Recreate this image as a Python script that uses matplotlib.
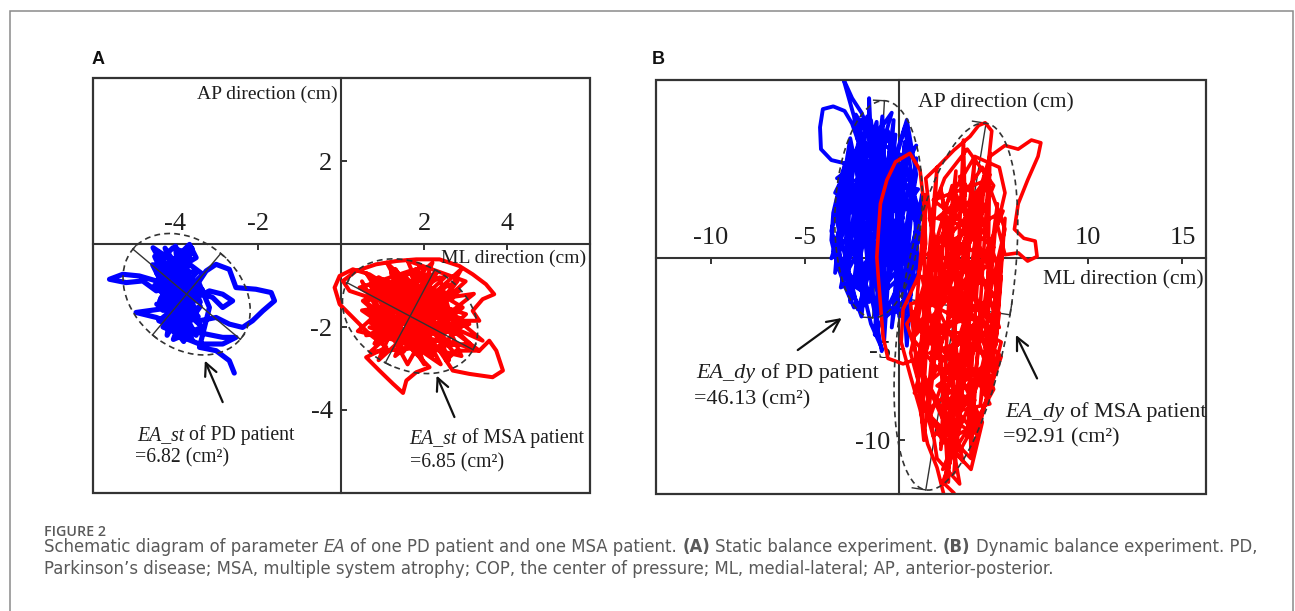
import matplotlib
matplotlib.use("Agg")
import matplotlib.pyplot as plt
import numpy as np
from matplotlib.patches import Ellipse, Rectangle
from matplotlib.offsetbox import TextArea, HPacker, AnnotationBbox

plt.rcParams['font.family'] = ['Liberation Serif', 'DejaVu Serif']
plt.rcParams['axes.unicode_minus'] = False

# ---------------- data (cm) ----------------
# COP trajectory, PD patient, static balance (ML, AP)
pd_static = [(-4.40,-0.20),(-3.70,-1.60),(-4.20,-1.90),(-3.60,-0.10),(-4.50,-1.00),(-3.40,-1.40),(-4.00,-0.05),(-3.80,-2.00),
             (-4.55,-0.50),(-3.50,-0.70),(-4.30,-1.60),(-3.90,-0.30),(-3.45,-1.90),(-4.10,-1.20),(-4.45,-0.70),(-3.55,-1.20),
             (-4.25,-0.10),(-3.75,-1.35),(-4.35,-1.30),(-3.85,-0.60),(-4.05,-1.75),(-3.60,-0.85),(-4.50,-0.30),(-3.95,-1.50),
             (-3.35,-1.10),(-4.15,-0.60),(-3.65,-1.80),(-4.40,-1.10),(-3.80,-0.20),(-4.20,-1.40),(-3.70,-0.50),(-4.00,-2.10),
             (-3.50,-1.60),(-4.30,-0.80),(-3.90,-1.00),(-4.10,-0.35),(-3.60,-1.45),(-4.45,-1.45),(-3.85,-1.85),(-3.75,-0.75),
             (-4.20,-1.20),(-3.50,-2.20),(-4.00,-1.30),(-3.60,-2.30),(-4.30,-2.00),(-3.40,-1.50),(-3.90,-2.25),(-4.15,-1.60),
             (-3.55,-1.00),(-3.80,-2.35),(-4.25,-1.75),(-3.45,-1.75),(-3.95,-1.10),(-3.70,-2.15),(-4.40,-1.85),(-3.65,-1.25),
             (-4.05,-2.30),(-3.35,-2.00),(-3.85,-1.55),(-4.20,-2.20),
             (-3.98,-0.89),(-4.14,-0.49),(-3.82,-0.17),(-3.66,-0.01),(-3.50,-0.33),(-3.90,-0.57),(-4.30,-0.25),(-4.54,-0.09),
             (-4.22,-0.65),(-4.46,-0.89),(-4.87,-0.77),(-5.27,-0.73),(-5.59,-0.85),(-5.19,-0.93),(-4.79,-0.89),(-4.46,-1.13),
             (-4.06,-0.97),(-3.74,-1.29),(-3.42,-0.89),(-3.26,-0.65),(-3.02,-0.49),(-2.70,-0.61),(-2.54,-1.05),(-2.06,-1.09),
             (-1.69,-1.17),(-1.61,-1.37),(-1.89,-1.61),(-2.14,-1.85),(-2.38,-2.01),(-2.70,-1.93),(-3.02,-1.77),(-3.42,-1.85),
             (-3.66,-1.61),(-3.98,-1.45),(-4.38,-1.57),(-4.95,-1.65),(-4.46,-1.77),(-4.06,-1.93),(-3.66,-2.09),(-3.26,-2.17),
             (-2.86,-2.25),(-2.54,-2.25),(-2.86,-2.41),(-3.42,-2.41),(-3.82,-2.25),(-4.06,-2.01),(-3.90,-1.69),(-3.66,-1.37),
             (-3.18,-1.13),(-2.86,-1.21),(-2.62,-1.37),(-2.86,-1.53),(-3.10,-1.29),(-3.50,-1.13),(-3.82,-0.89),(-4.22,-1.13),
             (-4.38,-1.37),(-4.06,-1.53),(-3.82,-1.21),(-3.98,-0.73),(-4.14,-0.33),(-3.66,-0.49),(-3.34,-0.73),(-3.66,-1.05),
             (-3.98,-1.21),(-4.22,-0.89),(-3.90,-0.49),(-3.66,-0.25),(-4.06,-0.09),(-4.38,-0.41),(-4.14,-0.81),(-3.74,-0.89),
             (-3.42,-0.97),(-3.18,-1.53),(-3.42,-2.49),(-3.02,-2.57),(-2.70,-2.81),(-2.58,-3.11)]

# COP trajectory, MSA patient, static balance
msa_static = [(0.50,-0.90),(1.60,-2.90),(2.90,-0.60),(0.70,-2.60),(3.10,-2.40),(1.10,-0.45),(2.40,-2.90),(0.50,-1.60),
              (3.20,-1.20),(1.30,-2.70),(2.20,-0.45),(0.40,-2.10),(2.90,-2.70),(1.90,-0.50),(0.90,-2.80),(3.00,-0.90),
              (1.60,-0.40),(2.60,-2.80),(0.60,-0.70),(2.00,-2.90),
              (1.20,-0.70),(2.60,-2.40),(0.70,-1.90),(2.80,-0.90),(1.50,-2.60),(0.90,-0.80),(2.40,-1.60),(1.10,-2.30),
              (2.90,-2.00),(1.80,-0.60),(0.60,-1.40),(2.20,-2.70),(1.40,-1.00),(2.70,-1.30),(1.00,-1.60),(2.00,-2.20),
              (1.60,-0.90),(2.50,-0.80),(0.80,-2.40),(2.10,-1.10),(1.30,-1.90),(2.60,-2.00),(1.90,-1.40),(0.90,-1.20),
              (2.30,-2.50),(1.70,-2.00),(2.80,-1.60),(1.20,-1.40),(2.00,-0.80),(1.50,-2.30),(0.70,-1.00),(2.40,-1.20),
              (1.80,-2.60),(1.00,-2.00),(2.20,-1.80),(1.60,-1.20),(2.70,-2.60),(1.30,-0.60),(2.00,-1.60),(0.80,-1.70),
              (1.90,-2.40),(2.50,-1.00),(1.40,-1.70),(2.90,-1.80),(1.10,-1.10),(2.30,-0.70),(1.70,-1.80),(0.60,-2.20),
              (2.10,-2.00),(1.50,-1.50),
              (1.33,-1.13),(0.68,-0.73),(0.28,-0.61),(-0.04,-0.77),(-0.16,-1.05),(-0.04,-1.45),(0.28,-1.77),(0.68,-2.17),
              (1.09,-2.49),(0.60,-2.73),(0.92,-3.05),(1.25,-3.37),(1.49,-3.59),(1.57,-3.29),(1.81,-3.09),(2.13,-2.97),
              (1.73,-2.57),(2.13,-0.73),(1.73,-1.53),(0.68,-1.13),(1.17,-2.01),(2.37,-1.21),(1.97,-2.17),(0.92,-1.53),
              (2.53,-1.77),(1.57,-0.81),(0.52,-1.37),(1.81,-2.49),(2.93,-1.53),(2.13,-1.05),(1.00,-0.89),(1.49,-1.85),
              (2.77,-2.17),(2.37,-0.81),(0.76,-1.77),(1.89,-1.37),(3.09,-1.93),(1.33,-2.33),(0.84,-0.89),(2.21,-1.93),
              (1.65,-0.65),(0.44,-1.05),(2.53,-2.33),(3.33,-2.57),(2.69,-2.09),(1.17,-1.37),(2.85,-1.13),(1.81,-1.85),
              (0.68,-2.01),(2.13,-2.49),(3.01,-1.69),(1.49,-1.21),(0.92,-2.17),(2.45,-1.53),(1.97,-0.97),(1.09,-1.77),
              (2.69,-2.01),(3.41,-2.33),(2.93,-1.93),(1.73,-2.17),(0.60,-1.61),(2.29,-1.37),(1.33,-0.81),(2.37,-2.33),
              (2.53,-2.81),(2.77,-2.57),(3.33,-2.57),(3.57,-2.33),(3.74,-2.57),(3.90,-3.05),(3.65,-3.21),(3.09,-3.13),
              (2.69,-3.05),(2.37,-2.57),(2.93,-1.85),(3.33,-1.85),(3.17,-1.61),(3.41,-1.33),(3.69,-1.21),(3.49,-0.97),
              (3.17,-0.73),(2.85,-0.53),(2.37,-0.37),(1.81,-0.37),(1.33,-0.41),(0.84,-0.49),(0.36,-0.65),(0.04,-0.89),
              (0.20,-1.13),(0.68,-1.29),(1.65,-1.53)]

# COP trajectory, PD patient, dynamic balance
pd_dynamic = [(-0.93,-5.10),(-1.20,-3.50),(-1.50,-2.00),(-2.40,-2.70),(-2.90,-1.50),(-3.30,-0.30),(-3.60,1.00),(-3.50,2.50),
              (-3.20,3.80),(-3.00,4.80),(-2.80,5.20),(-3.60,5.40),(-4.15,6.00),(-4.20,7.20),(-4.05,8.20),(-3.50,8.35),
              (-2.90,8.10),(-2.50,7.40),(-2.20,6.50),(-2.40,7.80),(-2.96,9.85),(-2.50,8.80),(-2.00,8.00),(-1.60,7.00),
              (-1.60,8.80),(-1.50,6.50),
              (-2.30,7.90),(-0.80,1.20),(-1.50,7.60),(-3.40,3.60),(-0.40,8.00),(-2.90,-1.00),(0.90,6.20),(-3.60,0.00),
              (-1.90,5.20),(0.60,-3.40),(-2.60,-1.40),(1.00,3.80),(-3.30,4.40),(-0.20,6.80),(-1.20,-3.60),(-2.20,4.60),
              (0.20,2.20),
              (-2.00,7.60),(-2.40,2.00),(-1.90,-2.60),(-1.40,3.50),(-1.70,7.80),(-0.60,3.00),(-0.90,-3.40),(-0.20,1.50),
              (0.30,6.40),(-0.40,-0.50),(-2.70,4.60),(-3.20,0.00),(-2.50,-2.00),(-2.00,1.80),(-1.00,7.20),(-1.80,2.50),
              (-2.60,6.60),(-3.30,2.00),(-2.20,-2.80),(-1.20,0.50),(-0.50,6.00),(0.80,3.00),(1.00,-0.80),(0.00,-3.20),
              (-0.40,2.20),(-1.50,5.40),(-2.80,3.00),(-3.50,0.40),(-2.00,-1.80),(-0.80,3.60),(0.40,7.60),(0.90,4.60),
              (-0.10,-1.60),(-1.30,-4.20),(-1.00,1.00),(-2.30,5.80),(-1.60,-1.00),(-0.30,4.20),(0.60,-2.00),(-0.70,-3.20),
              (-1.90,3.40),(-3.00,-0.40),(-2.60,1.00),(-1.10,6.40),(0.20,5.60),(1.10,2.40),(0.30,-0.80),(-1.40,-2.40),
              (-2.40,0.20),(-1.60,2.00),(-0.40,0.40),(-1.20,4.80),(-2.10,4.00),(-0.90,-1.40),(0.50,1.20),
              (-2.20,-1.50),(-1.80,7.20),(-2.80,-0.50),(-2.50,6.00),(-3.30,0.50),(-1.20,7.50),
              (-1.00,-3.00),(-0.30,7.60),(-1.60,-2.40),(0.50,6.80),(-0.40,-3.80),(0.90,5.50),(0.20,-2.60),(1.20,3.50),
              (0.70,-1.40),(-0.60,7.00),(-2.60,-2.40),(-3.00,4.20),(-3.60,1.50),(-2.00,-3.20),(-1.30,4.00),(-0.80,-4.50),
              (-0.20,5.00),(0.40,-4.80),(0.90,2.00),(-2.10,6.80),(-3.40,-0.80),(-2.90,5.20),(-1.60,0.80),(-0.90,7.80),
              (-0.50,-1.00),(0.60,4.40),(-2.30,3.00),(-1.10,-2.00),(1.10,1.00),(0.30,7.20),(-1.90,-0.80),(-2.60,3.60),
              (-0.70,2.00),(-1.40,6.00),(0.00,0.00),(-3.10,-1.60),(-1.80,4.80),(0.80,-0.50),(-0.20,3.00),(-2.40,1.50),
              (-1.00,5.50),(0.50,2.80),(-2.90,2.50),(-1.50,-3.60),(-0.90,-5.00)]

# COP trajectory, MSA patient, dynamic balance
msa_dynamic = [(2.34,-12.90),(2.00,-11.50),(1.50,-10.20),(1.10,-8.30),(0.60,-6.50),(0.10,-4.60),(0.20,-2.80),(1.00,-1.00),
               (1.40,0.80),(1.30,3.00),(1.10,4.85),(0.56,5.77),(-0.20,5.30),(-0.66,4.30),(-1.00,3.00),(-1.10,1.55),
               (-1.19,0.07),(-1.10,-1.20),(-1.00,-2.47),(-0.86,-4.30),(-0.60,-5.50),(0.20,-5.80),(1.00,-5.50),(1.60,-2.50),
               (1.80,0.80),(1.40,4.40),(2.10,5.10),(2.90,5.95),(3.75,6.70),(4.20,7.30),(4.55,7.45),(4.90,7.00),
               (4.60,4.00),(3.40,0.80),(4.80,5.60),(5.60,6.20),(6.30,6.00),(7.00,6.50),(7.50,6.35),(7.35,5.60),
               (6.80,4.30),(6.30,3.00),(6.10,1.60),(6.60,1.10),(7.20,0.95),(7.30,0.10),(6.80,-0.15),(6.30,0.30),
               (5.60,0.20),(5.20,1.80),(5.60,3.60),(5.30,5.00),(4.00,5.60),(2.50,3.00),(1.60,-8.00),(3.00,4.80),
               (2.20,-10.50),(4.00,5.50),(2.90,-11.80),(4.50,4.50),(3.60,-9.80),(5.20,3.00),(4.30,-8.00),(5.50,1.00),
               (4.90,-6.20),(5.30,-3.00),(0.80,-4.00),(1.40,3.50),(1.20,-9.00),(2.00,5.00),(1.00,-6.50),(1.80,1.00),
               (2.60,-12.30),(3.40,6.50),(3.80,-10.80),(4.80,5.80),(4.60,-7.50),(5.60,2.20),(5.10,-4.80),(5.40,-1.00),
               (0.60,-2.50),(1.30,-10.00),(2.40,2.00),(3.20,-7.00),(4.20,2.60),(2.00,-5.50),(3.60,0.00),(1.50,-1.50),
               (4.40,-3.50),(2.80,-9.00),(3.00,-1.00),(4.80,-5.50),(1.80,-3.50),(3.80,-5.00),(2.20,3.80),(3.30,-3.00),
               (5.50,2.60),(1.50,0.20),(4.80,4.60),(1.30,-4.80),(5.30,-1.80),(2.80,4.00),(1.10,-2.20),(5.40,-4.60),
               (3.80,-11.00),(1.40,-8.40),(4.60,-5.80),(2.30,-11.60),(4.10,-8.60),(0.70,-4.40),(5.00,0.60),(1.80,3.20),
               (4.40,4.20),(2.40,-12.40),(3.00,-9.80),
               (1.20,-1.00),(3.00,-4.80),(1.60,-8.80),(3.40,-11.20),(2.40,-7.40),(4.60,-4.00),(3.60,-0.40),(5.20,-2.20),
               (4.20,-6.80),(2.00,-9.60),(3.80,-11.60),(4.40,-9.00),(3.00,-6.00),(0.80,-3.00),(2.20,0.60),(1.00,-5.80),
               (2.80,-10.00),(3.20,-12.40),(2.00,-11.00),(1.40,-7.00),(3.60,-3.60),(5.40,-5.40),(4.00,-9.60),(2.60,-7.80),
               (4.80,-6.00),(5.20,-0.40),(4.00,3.40),(2.60,-0.80),(1.00,-3.80),(2.40,-5.60),(4.60,-2.80),(5.60,1.60),
               (4.40,5.00),(2.80,2.60),(1.60,-0.40),(0.60,-5.20),(1.80,-9.80),(3.00,-8.40),(4.80,-8.00),(3.40,-5.20),
               (1.80,-6.60),(0.80,-7.40),(2.00,-3.00),(3.80,1.00),(5.00,4.00),(3.60,6.00),(2.40,4.40),(1.60,2.20),
               (2.80,-2.40),(4.20,-4.60),(5.00,-7.20),(3.20,-10.60),(2.20,-8.20),(1.20,-6.20),(0.40,-3.60),(1.40,-2.00),
               (3.40,-1.60),(5.30,-3.80),(4.40,-1.00),(2.40,1.40),
               (3.50,3.50),(2.00,2.20),(4.50,1.50),(2.40,0.00),(4.20,-1.20),(1.80,-2.00),(3.80,-2.80),(2.00,-4.00),
               (4.40,-4.20),(1.60,-5.20),(3.60,-5.80),(2.00,-7.00),(4.00,-7.80),(2.40,-8.60),(3.60,-9.40),(2.20,-10.20),
               (3.00,-9.00),(4.20,-6.40),(2.80,-5.00),(4.80,-3.40),(3.00,-1.80),(4.90,-0.20),(2.60,1.20),(4.20,3.00),
               (3.20,4.50),(3.60,2.00),(2.20,-1.00),(3.40,-3.60),(2.60,-6.20),(3.20,-8.00),(2.70,-11.20),(2.30,-12.30),
               (2.90,-12.90)]

# 95% confidence ellipses: centre x, centre y, semi-major, semi-minor, angle (deg)
ell_pd_static = (-3.73, -1.21, 1.69, 1.28, -40)
ell_msa_static = (1.66, -1.74, 1.72, 1.27, -28)
ell_pd_dynamic = (-1.10, 2.70, 5.97, 2.30, 87)
ell_msa_dynamic = (3.00, -2.65, 10.20, 2.90, 81)

ea_values = {'pd_st': '6.82', 'msa_st': '6.85', 'pd_dy': '46.13', 'msa_dy': '92.91'}

xticks_a = [-4, -2, 2, 4]
yticks_a = [2, -2, -4]
xticks_b = [-10, -5, 10, 15]
yticks_b = [-5, -10]

# ---------------- styling ----------------
DARK = '#333333'
TXT = '#1e1e1e'
BLUE = '#0000ff'
RED = '#ff0000'
SERIF = ['Liberation Serif', 'DejaVu Serif']

fig = plt.figure(figsize=(12.95, 6.11), dpi=100)
fig.patch.set_facecolor('white')

# outer page border
fig.patches.append(Rectangle((9.5/1295, -0.1), (1292.5-9.5)/1295, 0.1 + (611-10.5)/611,
                             transform=fig.transFigure, fill=False, ec='#8a8a8a', lw=1.1))

axA = fig.add_axes([92.5/1295, (611-493)/611, 497.5/1295, 415/611])
axB = fig.add_axes([656/1295, (611-494)/611, 550/1295, 414/611])


def setup(ax, xlim, ylim, xt, yt):
    ax.set_xlim(*xlim)
    ax.set_ylim(*ylim)
    ax.set_facecolor('none')
    for s in ['right', 'bottom']:
        ax.spines[s].set_visible(False)
    ax.spines['top'].set_position(('data', 0))
    ax.spines['left'].set_position(('data', 0))
    for s in ['top', 'left']:
        ax.spines[s].set_color(DARK)
        ax.spines[s].set_linewidth(1.5)
    ax.xaxis.set_ticks_position('top')
    ax.yaxis.set_ticks_position('left')
    ax.set_xticks(xt)
    ax.set_yticks(yt)
    ax.set_xticklabels([str(v) for v in xt])
    ax.set_yticklabels([str(v) for v in yt])
    ax.tick_params(direction='in', length=4, width=1.4, color=DARK,
                   labelsize=19, labelcolor=TXT)
    ax.tick_params(axis='x', pad=6.5)
    ax.tick_params(axis='y', pad=6.3)
    ax.add_patch(Rectangle((0, 0), 1, 1, transform=ax.transAxes, fill=False,
                           ec=DARK, lw=1.6, clip_on=False, zorder=6))


setup(axA, (-6, 6), (-6, 4), xticks_a, yticks_a)
setup(axB, (-12.89, 16.25), (-12.95, 9.8), xticks_b, yticks_b)


def draw_path(ax, pts, color, lw):
    xs = [p[0] for p in pts]
    ys = [p[1] for p in pts]
    ax.plot(xs, ys, color=color, lw=lw, solid_joinstyle='round', solid_capstyle='round', zorder=3)


def draw_ellipse(ax, e, zaxes, cap_frac=0.12):
    cx, cy, a, b, ang = e
    ax.add_patch(Ellipse((cx, cy), 2*a, 2*b, angle=ang, fill=False, ec=DARK,
                         lw=1.2, ls=(0, (3.5, 2.5)), zorder=4))
    t = np.deg2rad(ang)
    u = np.array([np.cos(t), np.sin(t)])
    v = np.array([-np.sin(t), np.cos(t)])
    c = np.array([cx, cy])
    for vec, L, perp in [(u, a, v), (v, b, u)]:
        p1, p2 = c - L*vec, c + L*vec
        ax.plot([p1[0], p2[0]], [p1[1], p2[1]], color=DARK, lw=1.0, zorder=zaxes)
        cl = cap_frac * b
        for p in (p1, p2):
            q = p + cl*perp
            ax.plot([p[0], q[0]], [p[1], q[1]], color=DARK, lw=1.0, zorder=zaxes)


def mixed_label(ax, parts, xy, size):
    sp = 0.25 * size
    kids = [TextArea(s, textprops=dict(fontsize=size, family=SERIF, color=TXT, style=st))
            for s, st in parts]
    box = HPacker(children=kids, align='baseline', pad=0, sep=sp)
    ab = AnnotationBbox(box, xy, xycoords='data', box_alignment=(0, 0.5), frameon=False,
                        pad=0, annotation_clip=False, zorder=7)
    ax.add_artist(ab)


def arrow(ax, tail, head):
    ax.annotate('', xy=head, xytext=tail, xycoords='data',
                arrowprops=dict(arrowstyle='->,head_length=0.45,head_width=0.22',
                                color='#111111', lw=1.6, mutation_scale=20, shrinkA=0, shrinkB=0),
                zorder=7)

# ---------------- panel A ----------------
draw_path(axA, pd_static, BLUE, 3.7)
draw_path(axA, msa_static, RED, 2.9)
draw_ellipse(axA, ell_pd_static, 4)
draw_ellipse(axA, ell_msa_static, 4)
axA.text(-0.09, 3.6, 'AP direction (cm)', ha='right', va='center', fontsize=14, color=TXT, zorder=7)
axA.text(5.91, -0.34, 'ML direction (cm)', ha='right', va='center', fontsize=14, color=TXT, zorder=7)
mixed_label(axA, [('EA_st', 'italic'), ('of PD patient', 'normal')], (-4.93, -4.6), 14.2)
axA.text(-4.98, -5.16, '=' + ea_values['pd_st'] + ' (cm²)', ha='left', va='center', fontsize=14.2, color=TXT, zorder=7)
mixed_label(axA, [('EA_st', 'italic'), ('of MSA patient', 'normal')], (1.65, -4.68), 14.2)
axA.text(1.65, -5.28, '=' + ea_values['msa_st'] + ' (cm²)', ha='left', va='center', fontsize=14.2, color=TXT, zorder=7)
arrow(axA, (-2.86, -3.81), (-3.29, -2.81))
arrow(axA, (2.73, -4.17), (2.30, -3.17))

# ---------------- panel B ----------------
draw_path(axB, pd_dynamic, BLUE, 2.8)
draw_path(axB, msa_dynamic, RED, 2.6)
draw_ellipse(axB, ell_pd_dynamic, 2.6, cap_frac=0.25)
draw_ellipse(axB, ell_msa_dynamic, 2.6, cap_frac=0.25)
axB.text(0.99, 8.53, 'AP direction (cm)', ha='left', va='center', fontsize=15.6, color=TXT, zorder=7)
axB.text(16.15, -1.19, 'ML direction (cm)', ha='right', va='center', fontsize=15.6, color=TXT, zorder=7)
mixed_label(axB, [('EA_dy', 'italic'), ('of PD patient', 'normal')], (-10.77, -6.3), 15.9)
axB.text(-10.88, -7.79, '=' + ea_values['pd_dy'] + ' (cm²)', ha='left', va='center', fontsize=15.9, color=TXT, zorder=7)
mixed_label(axB, [('EA_dy', 'italic'), ('of MSA patient', 'normal')], (5.6, -8.45), 15.9)
axB.text(5.5, -9.87, '=' + ea_values['msa_dy'] + ' (cm²)', ha='left', va='center', fontsize=15.9, color=TXT, zorder=7)
arrow(axB, (-5.38, -5.04), (-3.05, -3.28))
arrow(axB, (7.3, -6.6), (6.18, -4.21))

# panel letters
fig.text(92/1295, (611-59.5)/611, 'A', family=['Liberation Sans', 'DejaVu Sans'], weight='bold',
         fontsize=13, ha='left', va='center', color='#111111')
fig.text(652/1295, (611-59.5)/611, 'B', family=['Liberation Sans', 'DejaVu Sans'], weight='bold',
         fontsize=13, ha='left', va='center', color='#111111')

# ---------------- caption ----------------
CAP = ['DejaVu Sans']
CAPC = '#595959'
CS = 11.88
fig.text(44/1295, (611-536.5)/611, 'FIGURE 2', family=['Open Sans', 'DejaVu Sans'], weight='semibold', fontsize=10.3,
         color='#5a5a5a', ha='left', va='baseline')
cap_parts = [('Schematic diagram of parameter', 'normal', 'normal'),
             ('EA', 'italic', 'normal'),
             ('of one PD patient and one MSA patient.', 'normal', 'normal'),
             ('(A)', 'normal', 'bold'),
             ('Static balance experiment.', 'normal', 'normal'),
             ('(B)', 'normal', 'bold'),
             ('Dynamic balance experiment. PD,', 'normal', 'normal')]
kids = [TextArea(s, textprops=dict(fontsize=CS, family=CAP, color=CAPC, style=st, weight=w))
        for s, st, w in cap_parts]
capbox = HPacker(children=kids, align='baseline', pad=0, sep=0.318*CS)
fig.add_artist(AnnotationBbox(capbox, (44, 611-552.7-3.8), xycoords='figure pixels', box_alignment=(0, 0),
                              frameon=False, pad=0, annotation_clip=False))
fig.text(44/1295, (611-574)/611,
         'Parkinson’s disease; MSA, multiple system atrophy; COP, the center of pressure; ML, medial-lateral; AP, anterior-posterior.',
         family=CAP, fontsize=CS, color=CAPC, ha='left', va='baseline')

fig.savefig('out.png', dpi=100, facecolor='white')
